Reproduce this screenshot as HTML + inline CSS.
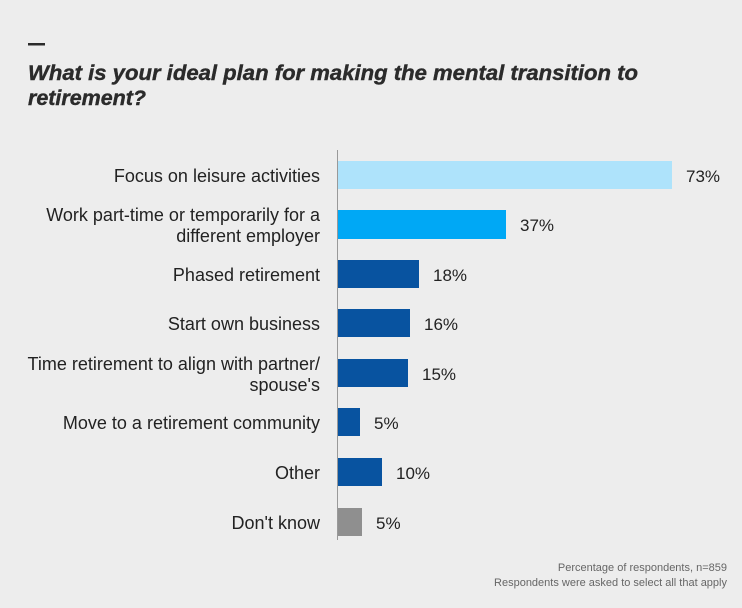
<!DOCTYPE html>
<html><head><style>
html,body{margin:0;padding:0;background:#ededed;}
svg{display:block;font-family:"Liberation Sans",Arial,sans-serif;}
</style></head><body>
<svg width="742" height="608" viewBox="0 0 742 608">
<rect width="742" height="608" fill="#ededed"/>
<rect x="28" y="43" width="17" height="2.5" fill="#2b2b2b"/>
<text x="28" y="80" font-size="21" font-weight="bold" font-style="italic" fill="#2b2b2b" stroke="#2b2b2b" stroke-width="0.4" textLength="610" lengthAdjust="spacingAndGlyphs">What is your ideal plan for making the mental transition to</text>
<text x="28" y="105" font-size="21" font-weight="bold" font-style="italic" fill="#2b2b2b" stroke="#2b2b2b" stroke-width="0.4" textLength="118" lengthAdjust="spacingAndGlyphs">retirement?</text>
<line x1="337.5" y1="150" x2="337.5" y2="540" stroke="#999" stroke-width="1"/>
<g font-size="18" fill="#222">
<rect x="338" y="161" width="334" height="28" fill="#aee3fb"/>
<text x="320" y="182" text-anchor="end">Focus on leisure activities</text>
<text x="686" y="182" font-size="17">73%</text>
<rect x="338" y="210" width="168" height="29" fill="#00a8f5"/>
<text x="320" y="221" text-anchor="end">Work part-time or temporarily for a</text>
<text x="320" y="242" text-anchor="end">different employer</text>
<text x="520" y="231" font-size="17">37%</text>
<rect x="338" y="260" width="81" height="28" fill="#0853a0"/>
<text x="320" y="281" text-anchor="end">Phased retirement</text>
<text x="433" y="281" font-size="17">18%</text>
<rect x="338" y="309" width="72" height="28" fill="#0853a0"/>
<text x="320" y="330" text-anchor="end">Start own business</text>
<text x="424" y="330" font-size="17">16%</text>
<rect x="338" y="359" width="70" height="28" fill="#0853a0"/>
<text x="320" y="370" text-anchor="end">Time retirement to align with partner/</text>
<text x="320" y="391" text-anchor="end">spouse's</text>
<text x="422" y="380" font-size="17">15%</text>
<rect x="338" y="408" width="22" height="28" fill="#0853a0"/>
<text x="320" y="429" text-anchor="end">Move to a retirement community</text>
<text x="374" y="429" font-size="17">5%</text>
<rect x="338" y="458" width="44" height="28" fill="#0853a0"/>
<text x="320" y="479" text-anchor="end">Other</text>
<text x="396" y="479" font-size="17">10%</text>
<rect x="338" y="508" width="24" height="28" fill="#8f8f8f"/>
<text x="320" y="529" text-anchor="end">Don't know</text>
<text x="376" y="529" font-size="17">5%</text>
</g>
<g font-size="11" fill="#666" text-anchor="end">
<text x="727" y="571">Percentage of respondents, n=859</text>
<text x="727" y="586">Respondents were asked to select all that apply</text>
</g>
</svg>
</body></html>
